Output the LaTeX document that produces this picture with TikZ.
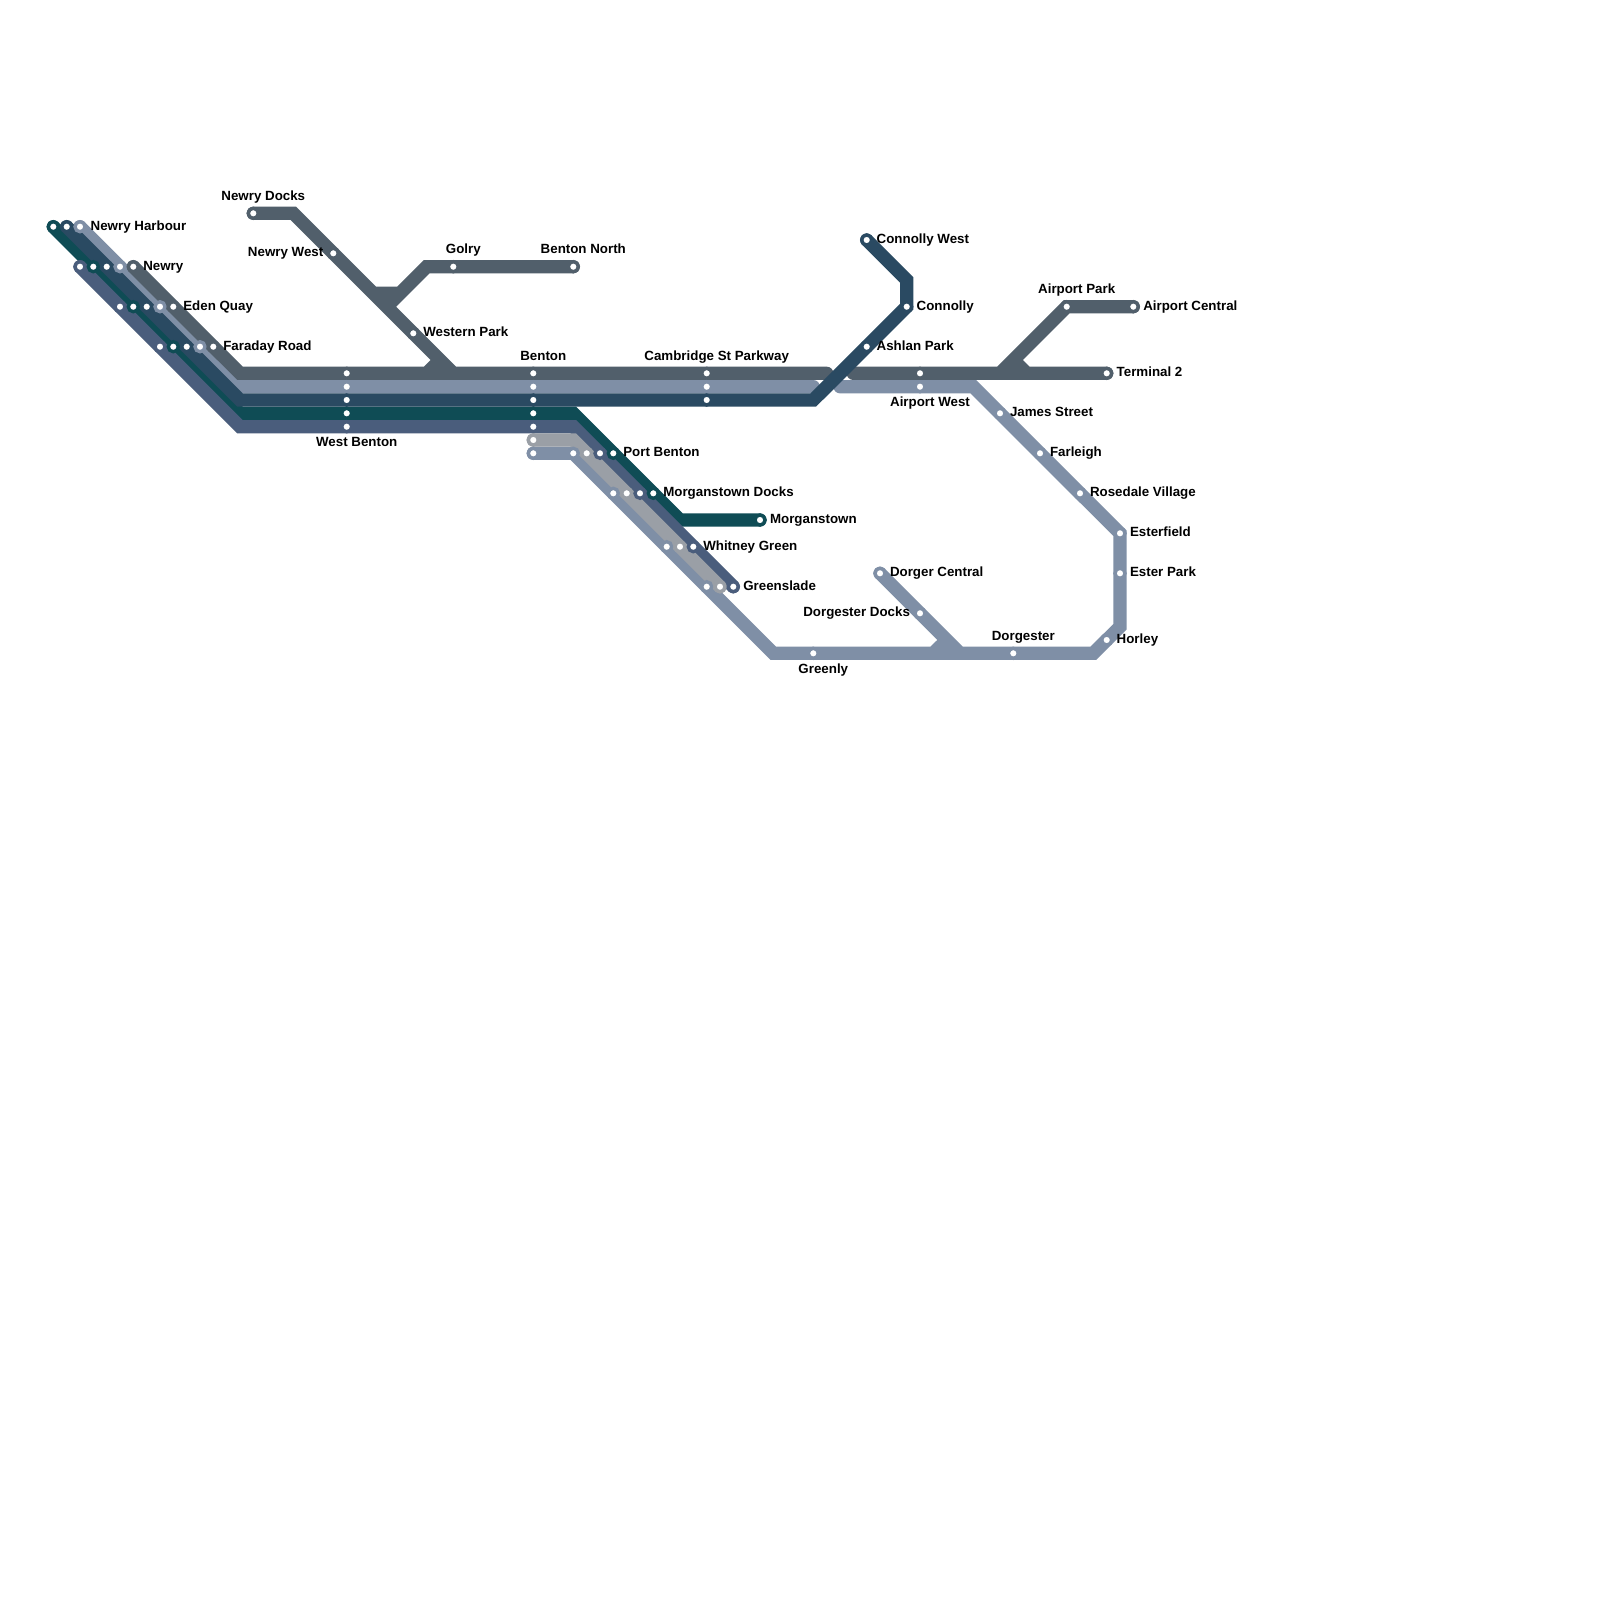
\documentclass[tikz,border=0pt]{standalone}
\usepackage{fontspec}
\setmainfont{Liberation Sans}
\definecolor{cgrey}{HTML}{515F6B}
\definecolor{clight}{HTML}{7F8FA6}
\definecolor{cblue}{HTML}{2A4A62}
\definecolor{cteal}{HTML}{0F4C55}
\definecolor{cnavy}{HTML}{4A5D7C}
\definecolor{csilver}{HTML}{9A9FA6}
\tikzset{
  metro/.style={line width=10pt,line cap=round,line join=miter},
  stn/.style={circle,fill=white,draw=#1,line width=2.5pt,minimum size=7.5pt,inner sep=0pt,outer sep=0pt},
  lab/.style={font=\fontsize{10}{12}\selectfont\bfseries,text=black,inner sep=0pt,outer sep=0pt},
  labw/.style={lab,anchor=base west},
  labe/.style={lab,anchor=base east},
  labc/.style={lab,anchor=base}
}
\begin{document}
\begin{tikzpicture}[x=0.75pt,y=-0.75pt]
\useasboundingbox (0,0) rectangle (1600,1600);
\fill[white] (0,0) rectangle (1600,1600);
% terminals and corners
\coordinate (hT) at (53.3,226.7);
\coordinate (hB) at (66.7,226.7);
\coordinate (hL) at (80,226.7);
\coordinate (nN) at (80,266.7);
\coordinate (nG) at (133.3,266.7);
\coordinate (dock) at (253.3,213.3);
\coordinate (dock2) at (293.3,213.3);
\coordinate (wpEnd) at (453.3,373.3);
\coordinate (wpEnd2) at (480,373.3);
\coordinate (sp1) at (426.7,373.3);
\coordinate (sp2) at (440,360);
\coordinate (sp0) at (400,373.3);
\coordinate (bn) at (573.3,266.7);
\coordinate (go1) at (426.7,266.7);
\coordinate (go2) at (400,293.3);
\coordinate (go3) at (373.3,293.3);
\coordinate (go4) at (386.7,306.7);
\coordinate (gc) at (240,373.3);
\coordinate (gEnd) at (826.7,373.3);
\coordinate (lc) at (240,386.7);
\coordinate (lEnd) at (813.3,386.7);
\coordinate (bc) at (240,400);
\coordinate (bc2) at (813.3,400);
\coordinate (conn) at (906.7,306.7);
\coordinate (conn2) at (906.7,280);
\coordinate (connW) at (866.7,240);
\coordinate (tc) at (240,413.3);
\coordinate (tc2) at (573.3,413.3);
\coordinate (tc3) at (680,520);
\coordinate (tEnd) at (760,520);
\coordinate (nc) at (240,426.7);
\coordinate (nc2) at (573.3,426.7);
\coordinate (nEnd) at (733.3,586.7);
\coordinate (sS) at (533.3,440);
\coordinate (sc) at (573.3,440);
\coordinate (sEnd) at (720,586.7);
\coordinate (lS) at (533.3,453.3);
\coordinate (lc1) at (573.3,453.3);
\coordinate (lc2) at (773.3,653.3);
\coordinate (lc3) at (1093.3,653.3);
\coordinate (lc4) at (1120,626.7);
\coordinate (lc5) at (1120,533.3);
\coordinate (lc6) at (973.3,386.7);
\coordinate (lc7) at (840,386.7);
\coordinate (dc) at (880,573.3);
\coordinate (dc2) at (960,653.3);
\coordinate (dc3) at (986,653.3);
\coordinate (dsp0) at (910,653.3);
\coordinate (dsp1) at (933.3,653.3);
\coordinate (dsp2) at (946.7,640);
\coordinate (gR) at (853.3,373.3);
\coordinate (term) at (1106.7,373.3);
\coordinate (ac) at (1133.3,306.7);
\coordinate (ap) at (1066.7,306.7);
\coordinate (apb) at (1013.3,360);
\coordinate (apc) at (1026.7,373.3);
\coordinate (apd) at (1045,373.3);
\coordinate (aps) at (1000,373.3);
\coordinate (aps2) at (980,373.3);
% lines
\draw[metro,clight] (hL) -- (lc) -- (lEnd);
\draw[metro,clight] (lS) -- (lc1) -- (lc2) -- (lc3) -- (lc4) -- (lc5) -- (lc6) -- (lc7)
  (dc) -- (dc2) -- (dc3) (dsp0) -- (dsp1) -- (dsp2);
\draw[metro,cteal] (hT) -- (tc) -- (tc2) -- (tc3) -- (tEnd);
\draw[metro,cgrey] (nG) -- (gc) -- (gEnd)
  (dock) -- (dock2) -- (wpEnd) -- (wpEnd2)
  (sp0) -- (sp1) -- (sp2)
  (bn) -- (go1) -- (go4)
  (go2) -- (go3);
\draw[metro,cgrey] (gR) -- (term)
  (ac) -- (ap) -- (aps) -- (aps2)
  (apb) -- (apc) -- (apd);
\draw[metro,cblue] (hB) -- (bc) -- (bc2) -- (conn) -- (conn2) -- (connW);
\draw[metro,cnavy] (nN) -- (nc) -- (nc2) -- (nEnd);
\draw[metro,csilver] (sS) -- (sc) -- (sEnd);
% stations
\node[stn=cteal] (s1) at (53.3,226.7) {};
\node[stn=cblue] (s2) at (66.7,226.7) {};
\node[stn=clight] (s3) at (80,226.7) {};
\node[stn=cnavy] (s4) at (80,266.7) {};
\node[stn=cteal] (s5) at (93.3,266.7) {};
\node[stn=cblue] (s6) at (106.7,266.7) {};
\node[stn=clight] (s7) at (120,266.7) {};
\node[stn=cgrey] (s8) at (133.3,266.7) {};
\node[stn=cnavy] (s9) at (120,306.7) {};
\node[stn=cteal] (s10) at (133.3,306.7) {};
\node[stn=cblue] (s11) at (146.7,306.7) {};
\node[stn=clight] (s12) at (160,306.7) {};
\node[stn=cgrey] (s13) at (173.3,306.7) {};
\node[stn=cnavy] (s14) at (160,346.7) {};
\node[stn=cteal] (s15) at (173.3,346.7) {};
\node[stn=cblue] (s16) at (186.7,346.7) {};
\node[stn=clight] (s17) at (200,346.7) {};
\node[stn=cgrey] (s18) at (213.3,346.7) {};
\node[stn=cgrey] (s19) at (346.7,373.3) {};
\node[stn=clight] (s20) at (346.7,386.7) {};
\node[stn=cblue] (s21) at (346.7,400) {};
\node[stn=cteal] (s22) at (346.7,413.3) {};
\node[stn=cnavy] (s23) at (346.7,426.7) {};
\node[stn=cgrey] (s24) at (533.3,373.3) {};
\node[stn=clight] (s25) at (533.3,386.7) {};
\node[stn=cblue] (s26) at (533.3,400) {};
\node[stn=cteal] (s27) at (533.3,413.3) {};
\node[stn=cnavy] (s28) at (533.3,426.7) {};
\node[stn=csilver] (s29) at (533.3,440) {};
\node[stn=clight] (s30) at (533.3,453.3) {};
\node[stn=cgrey] (s31) at (706.7,373.3) {};
\node[stn=clight] (s32) at (706.7,386.7) {};
\node[stn=cblue] (s33) at (706.7,400) {};
\node[stn=clight] (s34) at (573.3,453.3) {};
\node[stn=csilver] (s35) at (586.7,453.3) {};
\node[stn=cnavy] (s36) at (600,453.3) {};
\node[stn=cteal] (s37) at (613.3,453.3) {};
\node[stn=clight] (s38) at (613.3,493.3) {};
\node[stn=csilver] (s39) at (626.7,493.3) {};
\node[stn=cnavy] (s40) at (640,493.3) {};
\node[stn=cteal] (s41) at (653.3,493.3) {};
\node[stn=cteal] (s42) at (760,520) {};
\node[stn=clight] (s43) at (666.7,546.7) {};
\node[stn=csilver] (s44) at (680,546.7) {};
\node[stn=cnavy] (s45) at (693.3,546.7) {};
\node[stn=clight] (s46) at (706.7,586.7) {};
\node[stn=csilver] (s47) at (720,586.7) {};
\node[stn=cnavy] (s48) at (733.3,586.7) {};
\node[stn=cgrey] (s49) at (253.3,213.3) {};
\node[stn=cgrey] (s50) at (333.3,253.3) {};
\node[stn=cgrey] (s51) at (413.3,333.3) {};
\node[stn=cgrey] (s52) at (453.3,266.7) {};
\node[stn=cgrey] (s53) at (573.3,266.7) {};
\node[stn=cblue] (s54) at (866.7,240) {};
\node[stn=cblue] (s55) at (906.7,306.7) {};
\node[stn=cblue] (s56) at (866.7,346.7) {};
\node[stn=cgrey] (s57) at (920,373.3) {};
\node[stn=clight] (s58) at (920,386.7) {};
\node[stn=cgrey] (s59) at (1106.7,373.3) {};
\node[stn=cgrey] (s60) at (1066.7,306.7) {};
\node[stn=cgrey] (s61) at (1133.3,306.7) {};
\node[stn=clight] (s62) at (1000,413.3) {};
\node[stn=clight] (s63) at (1040,453.3) {};
\node[stn=clight] (s64) at (1080,493.3) {};
\node[stn=clight] (s65) at (1120,533.3) {};
\node[stn=clight] (s66) at (1120,573.3) {};
\node[stn=clight] (s67) at (1106.7,640) {};
\node[stn=clight] (s68) at (1013.3,653.3) {};
\node[stn=clight] (s69) at (813.3,653.3) {};
\node[stn=clight] (s70) at (880,573.3) {};
\node[stn=clight] (s71) at (920,613.3) {};
% labels
\node[labw] (t1) at (90.7,230) {Newry Harbour};
\node[labw] (t2) at (143.3,270) {Newry};
\node[labw] (t3) at (183.3,310) {Eden Quay};
\node[labw] (t4) at (223.3,350) {Faraday Road};
\node[labc] (t5) at (263.3,200) {Newry Docks};
\node[labe] (t6) at (323.3,256.7) {Newry West};
\node[labw] (t7) at (423.3,336.7) {Western Park};
\node[labc] (t8) at (463.3,253.3) {Golry};
\node[labc] (t9) at (583.3,253.3) {Benton North};
\node[labc] (t10) at (356.7,446.7) {West Benton};
\node[labc] (t11) at (543.3,360) {Benton};
\node[labc] (t12) at (716.7,360) {Cambridge St Parkway};
\node[labw] (t13) at (623.3,456.7) {Port Benton};
\node[labw] (t14) at (663.3,496.7) {Morganstown Docks};
\node[labw] (t15) at (770,523.3) {Morganstown};
\node[labw] (t16) at (703.3,550) {Whitney Green};
\node[labw] (t17) at (743.3,590) {Greenslade};
\node[labw] (t18) at (876.7,243.3) {Connolly West};
\node[labw] (t19) at (916.7,310) {Connolly};
\node[labw] (t20) at (876.7,350) {Ashlan Park};
\node[labc] (t21) at (930,406.7) {Airport West};
\node[labc] (t22) at (1076.7,293.3) {Airport Park};
\node[labw] (t23) at (1143.3,310) {Airport Central};
\node[labw] (t24) at (1116.7,376.7) {Terminal 2};
\node[labw] (t25) at (1010,416.7) {James Street};
\node[labw] (t26) at (1050,456.7) {Farleigh};
\node[labw] (t27) at (1090,496.7) {Rosedale Village};
\node[labw] (t28) at (1130,536.7) {Esterfield};
\node[labw] (t29) at (1130,576.7) {Ester Park};
\node[labw] (t30) at (1116.7,643.3) {Horley};
\node[labw] (t31) at (890,576.7) {Dorger Central};
\node[labe] (t32) at (910,616.7) {Dorgester Docks};
\node[labc] (t33) at (1023.3,640) {Dorgester};
\node[labc] (t34) at (823.3,673.3) {Greenly};
\end{tikzpicture}
\end{document}
